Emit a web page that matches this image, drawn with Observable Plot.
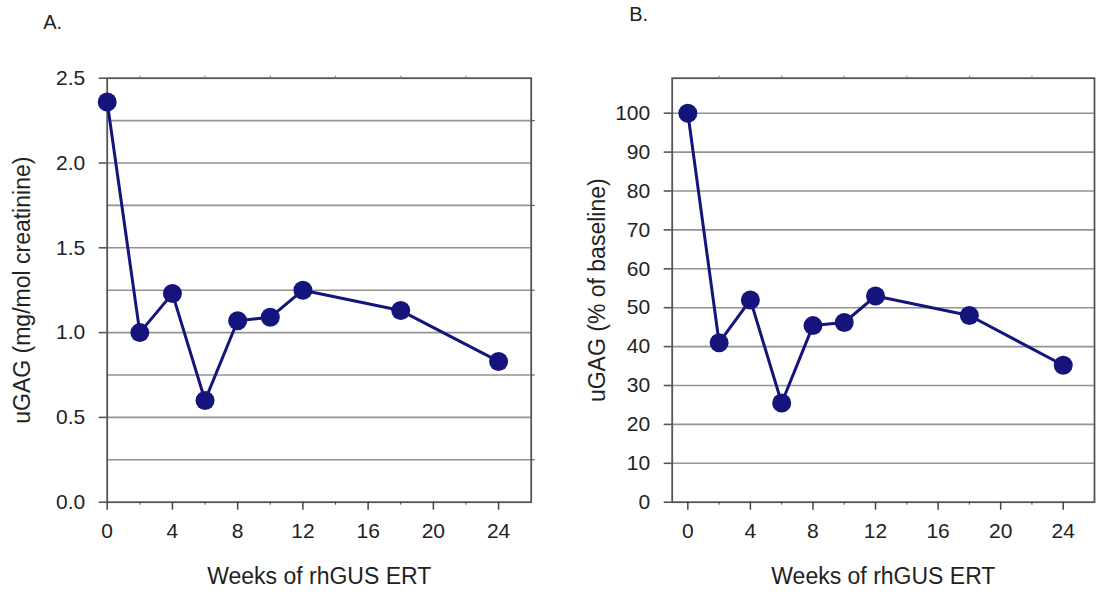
<!DOCTYPE html>
<html>
<head>
<meta charset="utf-8">
<script src="https://cdn.jsdelivr.net/npm/d3@7"></script>
<script src="https://cdn.jsdelivr.net/npm/@observablehq/plot@0.6"></script>
<style>
  html, body { margin: 0; padding: 0; background: #fff; }
  #wrap { position: relative; width: 1097px; height: 596px; overflow: hidden; }
  #wrap svg { position: absolute; top: 0; }
</style>
</head>
<body>
<div id="wrap"></div>
<script>
// ---- data ----
const weeks = [0, 2, 4, 6, 8, 10, 12, 18, 24];
const uGAG = [2.36, 1.0, 1.23, 0.60, 1.07, 1.09, 1.25, 1.13, 0.83];
const pctBaseline = [100, 41, 52, 25.5, 45.4, 46.2, 53, 48, 35.2];
const xMajorTicks = [0, 4, 8, 12, 16, 20, 24];
const xMinorTicks = [2, 6, 10, 14, 18, 22];
const yTicksA = [0, 0.5, 1.0, 1.5, 2.0, 2.5];
const yGridA = [0.25, 0.5, 0.75, 1.0, 1.25, 1.5, 1.75, 2.0, 2.25];
const yMinorA = [0.25, 0.75, 1.25, 1.75, 2.25];
const yTicksB = [0, 10, 20, 30, 40, 50, 60, 70, 80, 90, 100];
const panelLabels = ["A.", "B."];
const xTitle = "Weeks of rhGUS ERT";
const yTitleA = "uGAG (mg/mol creatinine)";
const yTitleB = "uGAG (% of baseline)";

const dataA = weeks.map((w, i) => ({week: w, value: uGAG[i]}));
const dataB = weeks.map((w, i) => ({week: w, value: pctBaseline[i]}));

const navy = "#14147c";
const gridColor = "#939393";
const font = "'Liberation Sans', Arial, sans-serif";

function panel({data, yDomain, xDomain, yTicks, yGrid, yFmt, yTitle, label, marginLeft, marginRight, labelDx, labelDy, yTitleDx, yMinor}) {
  return Plot.plot({
    width: 548,
    height: 596,
    marginLeft, marginRight,
    marginTop: 77.7,
    marginBottom: 94.3,
    x: {domain: xDomain},
    y: {domain: yDomain},
    style: {fontFamily: font, fontSize: "21px", color: "#222", background: "transparent", overflow: "visible"},
    marks: [
      Plot.ruleY(yGrid, {stroke: gridColor, strokeWidth: 1.6}),
      Plot.frame({stroke: "#555", strokeWidth: 1.8}),
      Plot.axisY({ticks: yTicks, tickSize: 8, tickPadding: 14, tickFormat: yFmt, label: null, stroke: "#555", strokeWidth: 1.6, fontSize: 21, fill: "#222"}),
      ...(yMinor ? [Plot.axisY({anchor: "right", ticks: yMinor, tickSize: 3, tickFormat: () => "", label: null, stroke: "#444"})] : []),
      Plot.axisX({ticks: xMajorTicks, tickSize: 8, tickPadding: 13, label: null, stroke: "#444", strokeWidth: 1.5, fontSize: 21, fill: "#222"}),
      Plot.axisX({ticks: xMinorTicks, tickSize: 3, tickFormat: () => "", label: null, stroke: "#444"}),
      Plot.axisX({anchor: "top", ticks: xMinorTicks, tickSize: 3, tickFormat: () => "", label: null, stroke: "#777"}),
      Plot.line(data, {x: "week", y: "value", stroke: navy, strokeWidth: 3}),
      Plot.dot(data, {x: "week", y: "value", r: 9.5, fill: navy, stroke: null}),
      Plot.text([yTitle], {frameAnchor: "left", dx: yTitleDx, rotate: -90, textAnchor: "middle", lineAnchor: "middle", fontSize: 23, fill: "#222"}),
      Plot.text([xTitle], {frameAnchor: "bottom", dy: 74, textAnchor: "middle", lineAnchor: "middle", fontSize: 23, fill: "#222"}),
      Plot.text([label], {frameAnchor: "top-left", dx: labelDx, dy: labelDy, textAnchor: "start", lineAnchor: "middle", fontSize: 20, fill: "#222"})
    ]
  });
}

const svgA = panel({
  data: dataA, yDomain: [0, 2.5], xDomain: [0, 26],
  yTicks: yTicksA, yGrid: yGridA, yFmt: d => d.toFixed(1),
  yTitle: yTitleA, label: panelLabels[0],
  marginLeft: 106.7, marginRight: 17.3, labelDx: -64, labelDy: -56, yTitleDx: -85, yMinor: yMinorA
});
svgA.style.left = "0px";

const svgB = panel({
  data: dataB, yDomain: [0, 109], xDomain: [-1, 26],
  yTicks: yTicksB, yGrid: yTicksB.slice(1), yFmt: d => String(d),
  yTitle: yTitleB, label: panelLabels[1],
  marginLeft: 122.7, marginRight: 3, labelDx: -43, labelDy: -64, yTitleDx: -75, yMinor: null
});
svgB.style.left = "549px";

const wrap = document.getElementById("wrap");
wrap.appendChild(svgA);
wrap.appendChild(svgB);
</script>
</body>
</html>
